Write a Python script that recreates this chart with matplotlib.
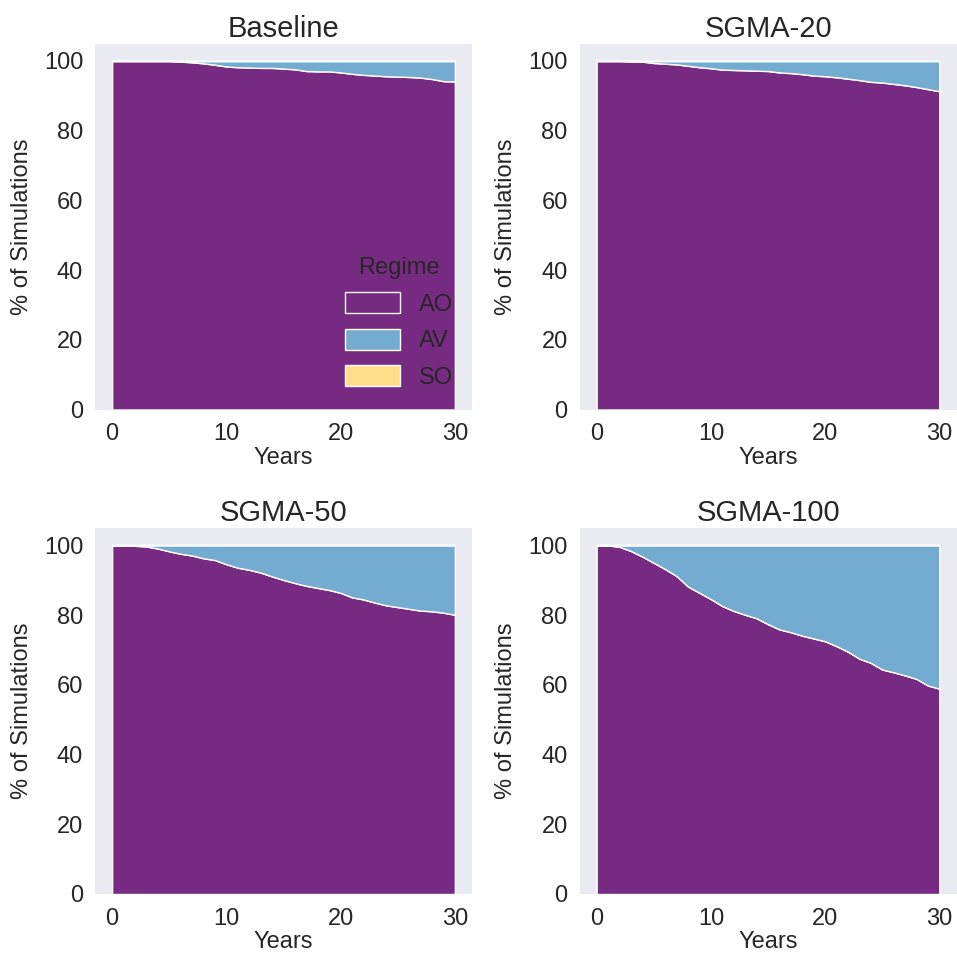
import numpy as np
import matplotlib
matplotlib.use("Agg")
import matplotlib.pyplot as plt
from matplotlib.patches import Patch

years = list(range(0, 31))

baseline_ao = [100, 100, 100, 100, 100, 100, 99.8, 99.6, 99.3, 98.9, 98.4, 98.2, 98.1, 98.0,
               98.0, 97.8, 97.6, 97.1, 97.0, 97.0, 96.7, 96.3, 96.0, 95.8, 95.6, 95.5, 95.4,
               95.2, 94.8, 94.2, 94.1]
sgma20_ao = [100, 100, 100, 99.9, 99.8, 99.4, 99.2, 99.0, 98.6, 98.2, 97.9, 97.5, 97.4, 97.3,
             97.2, 97.1, 96.7, 96.5, 96.2, 95.8, 95.6, 95.3, 94.9, 94.5, 94.0, 93.8, 93.4,
             93.0, 92.5, 91.9, 91.3]
sgma50_ao = [100, 100, 99.9, 99.7, 99.1, 98.3, 97.6, 97.1, 96.3, 95.8, 94.6, 93.6, 93.0, 92.2,
             91.1, 90.1, 89.2, 88.4, 87.8, 87.2, 86.4, 85.1, 84.5, 83.6, 82.8, 82.3, 81.8,
             81.3, 81.1, 80.7, 80.1]
sgma100_ao = [100, 100, 99.6, 98.4, 96.8, 95.0, 93.2, 91.2, 88.2, 86.4, 84.6, 82.6, 81.2, 80.1,
              79.1, 77.4, 75.9, 75.1, 74.1, 73.3, 72.5, 71.1, 69.5, 67.5, 66.3, 64.4, 63.6,
              62.7, 61.7, 59.8, 58.9]

scenarios = ["Baseline", "SGMA-20", "SGMA-50", "SGMA-100"]
ao_series = [baseline_ao, sgma20_ao, sgma50_ao, sgma100_ao]
regimes = ["AO", "AV", "SO"]
regime_colors = ["#772a81", "#74acd1", "#fedd8a"]

plt.rcParams["font.family"] = ["Liberation Sans", "DejaVu Sans"]
text_color = "#262626"

fig = plt.figure(figsize=(9.57, 9.59), dpi=100)
W, H = 957, 959
boxes = [(95, 43.5, 472, 409.5), (579.5, 43.5, 956.5, 409.5),
         (95, 528, 472, 894), (579.5, 528, 956.5, 894)]

for (x0, y0, x1, y1), name, ao in zip(boxes, scenarios, ao_series):
    ax = fig.add_axes([x0 / W, 1 - y1 / H, (x1 - x0) / W, (y1 - y0) / H])
    ao = np.array(ao, dtype=float)
    av = 100 - ao
    so = np.zeros_like(ao)
    ax.stackplot(years, ao, av, so, colors=regime_colors,
                 edgecolor="white", linewidth=1.0)
    ax.set_facecolor("#eaeaf2")
    for s in ax.spines.values():
        s.set_visible(False)
    ax.set_xlim(-1.5, 31.5)
    ax.set_ylim(0, 105)
    ax.set_xticks([0, 10, 20, 30])
    ax.set_yticks([0, 20, 40, 60, 80, 100])
    ax.tick_params(length=0, labelsize=17, colors=text_color)
    ax.tick_params(axis="x", pad=10)
    ax.tick_params(axis="y", pad=8.5)
    ax.set_xlabel("Years", fontsize=17, color=text_color, labelpad=1)
    ax.set_ylabel("% of Simulations", fontsize=17, color=text_color, labelpad=8)
    ax.set_title(name, fontsize=21, color=text_color, pad=5)
    if name == "Baseline":
        handles = [Patch(facecolor=c, edgecolor="white", linewidth=1.0) for c in regime_colors]
        leg = ax.legend(handles, regimes, title="Regime", loc="lower right",
                        frameon=False, fontsize=17, title_fontsize=17,
                        handlelength=2.3, handleheight=1.0, labelspacing=0.55,
                        handletextpad=0.8, bbox_to_anchor=(1.005, -0.002))
        for t in leg.get_texts():
            t.set_color(text_color)
        leg.get_title().set_color(text_color)

fig.savefig("out.png", dpi=100, facecolor="white")
